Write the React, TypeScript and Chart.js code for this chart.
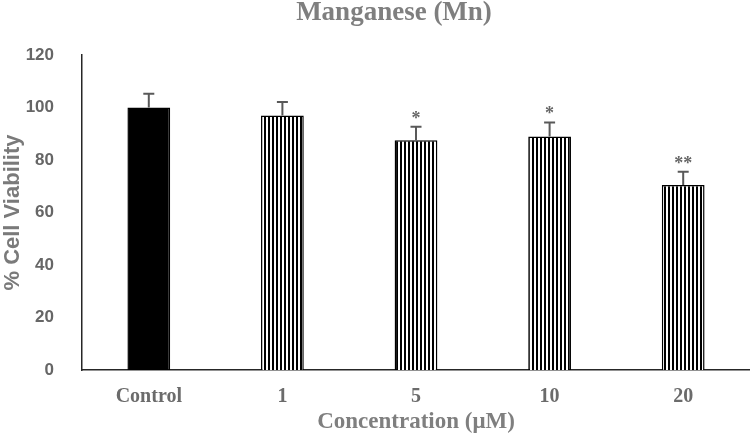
import React, { useEffect, useRef } from 'react';
import { Chart, registerables } from 'chart.js';

Chart.register(...registerables);

const categories = ['Control', '1', '5', '10', '20'];
const viability = [100, 97, 87.5, 89, 70.5];
const errorUp = [5.2, 5.1, 5.2, 5.3, 5.0];
const significance = ['', '', '*', '*', '**'];
const chartTitle = 'Manganese (Mn)';
const xTitle = 'Concentration (\u03BCM)';
const yTitle = '% Cell Viability';
const yMin = 0;
const yMax = 120;
const yStep = 20;

const SERIF = '"Liberation Serif", "Times New Roman", serif';
const SANS = '"Liberation Sans", Arial, sans-serif';

function makeStripes(): CanvasPattern | string {
  const c = document.createElement('canvas');
  c.width = 4;
  c.height = 4;
  const g = c.getContext('2d');
  if (!g) return '#888';
  g.fillStyle = '#ffffff';
  g.fillRect(0, 0, 4, 4);
  g.fillStyle = '#000000';
  g.fillRect(0, 0, 2, 4);
  return g.createPattern(c, 'repeat') || '#888';
}

const overlay = {
  id: 'overlay',
  afterDatasetsDraw(chart: any) {
    const ctx = chart.ctx as CanvasRenderingContext2D;
    const meta = chart.getDatasetMeta(0);
    const ys = chart.scales.y;
    ctx.save();
    meta.data.forEach((bar: any, i: number) => {
      const x = bar.x;
      const top = ys.getPixelForValue(viability[i]);
      const cap = ys.getPixelForValue(viability[i] + errorUp[i]);
      ctx.strokeStyle = '#595959';
      ctx.lineWidth = 2;
      ctx.beginPath();
      ctx.moveTo(x, top);
      ctx.lineTo(x, cap);
      ctx.moveTo(x - 5.5, cap);
      ctx.lineTo(x + 5.5, cap);
      ctx.stroke();
      if (significance[i]) {
        ctx.fillStyle = '#666666';
        ctx.font = 'bold 18px ' + SERIF;
        ctx.textAlign = 'center';
        ctx.textBaseline = 'alphabetic';
        ctx.fillText(significance[i], x, cap - 3);
      }
    });
    const area = chart.chartArea;
    // main title
    ctx.fillStyle = '#7f7f7f';
    ctx.font = 'bold 27px ' + SERIF;
    ctx.textAlign = 'center';
    ctx.textBaseline = 'middle';
    ctx.fillText(chartTitle, (area.left + area.right) / 2 - 22, 13);
    // y title
    ctx.translate(13, (area.top + area.bottom) / 2);
    ctx.rotate(-Math.PI / 2);
    ctx.font = 'bold 22px ' + SANS;
    ctx.fillStyle = '#7a7a7a';
    ctx.fillText(yTitle, 0, 0);
    ctx.restore();
  },
};

export default function App() {
  const ref = useRef<HTMLCanvasElement>(null);
  useEffect(() => {
    document.body.style.margin = '0';
    const stripes = makeStripes();
    const chart = new Chart(ref.current as HTMLCanvasElement, {
      type: 'bar',
      data: {
        labels: categories,
        datasets: [
          {
            data: viability,
            backgroundColor: categories.map((_, i) => (i === 0 ? '#000000' : stripes)) as any,
            borderColor: '#000000',
            borderWidth: 1.5,
            barPercentage: 0.32,
            categoryPercentage: 1,
          },
        ],
      },
      options: {
        animation: false,
        responsive: true,
        maintainAspectRatio: false,
        layout: { padding: { top: 55, right: 0, left: 0, bottom: 0 } },
        plugins: {
          legend: { display: false },
          title: { display: false },
          tooltip: { enabled: false },
        },
        scales: {
          x: {
            grid: { display: false },
            border: { display: true, color: '#262626', width: 1.5 },
            ticks: {
              color: '#6b6b6b',
              font: { family: SERIF, size: 20, weight: 'bold' },
              padding: 7,
            },
            title: {
              display: true,
              text: xTitle,
              color: '#7f7f7f',
              font: { family: SERIF, size: 23, weight: 'bold', lineHeight: 1.0 },
              padding: { top: 0, bottom: 3 },
            },
            afterFit: (s: any) => {
              s.height = 67;
            },
          },
          y: {
            min: yMin,
            max: yMax,
            grid: { display: false },
            border: { display: true, color: '#262626', width: 1.5 },
            ticks: {
              stepSize: yStep,
              color: '#666666',
              font: { family: SANS, size: 17, weight: 'bold' },
              padding: 20,
            },
            afterFit: (s: any) => {
              s.width = 82;
            },
          },
        },
      },
      plugins: [overlay],
    } as any);
    return () => chart.destroy();
  }, []);
  return (
    <div style={{ position: 'absolute', left: 0, top: 0, width: 750, height: 437 }}>
      <canvas ref={ref} />
    </div>
  );
}
